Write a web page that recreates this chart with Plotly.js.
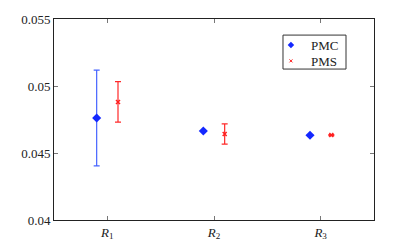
<!DOCTYPE html>
<html><head><meta charset="utf-8">
<script src="https://cdn.plot.ly/plotly-3.0.1.min.js"></script>
<style>body{margin:0;background:#fff}#c{width:415px;height:248px}</style>
</head><body><div id="c"></div>
<script>
const categories = ['<i>R</i><sub>1</sub>', '<i>R</i><sub>2</sub>', '<i>R</i><sub>3</sub>'];
const seriesNames = ['PMC', 'PMS'];
const pmcMean = [0.04761, 0.04664, 0.04632];
const pmcErr  = [0.00357, 0, 0];
const pmsMean = [0.04881, 0.04642, 0.04634];
const pmsErr  = [0.00151, 0.00076, 0.00004];

const pos = categories.map((_, i) => i + 1);
const off = 0.1;
const fam = 'Liberation Serif';
const font = {family: fam, size: 13, color: '#222'};
const blue = 'rgb(20,40,255)', red = 'rgb(255,30,30)';

const traces = [
  {x: pos.map(p => p - off), y: pmcMean, name: seriesNames[0], type: 'scatter', mode: 'markers', showlegend: false,
   marker: {symbol: 'diamond', size: 7, color: blue},
   error_y: {type: 'data', array: pmcErr, visible: true, color: 'rgb(70,100,255)', thickness: 1.2, width: 3}},
  {x: pos.map(p => p + off), y: pmsMean, name: seriesNames[1], type: 'scatter', mode: 'markers', showlegend: false,
   marker: {symbol: 'x-thin', size: 4, color: red, line: {color: red, width: 1.5}},
   error_y: {type: 'data', array: pmsErr, visible: true, color: 'rgb(255,40,40)', thickness: 1.2, width: 3}},
  {x: [null], y: [null], name: seriesNames[0], type: 'scatter', mode: 'markers', legend: 'legend',
   marker: {symbol: 'diamond', size: 5, color: blue}},
  {x: [null], y: [null], name: seriesNames[1], type: 'scatter', mode: 'markers', legend: 'legend2',
   marker: {symbol: 'x-thin', size: 3, color: red, line: {color: red, width: 1}}}
];

const axBase = {showline: true, linecolor: '#222', linewidth: 1, mirror: 'ticks', ticks: 'inside',
  ticklen: 4, tickcolor: '#777', showgrid: false, zeroline: false, tickfont: font};

const legBase = {xanchor: 'left', yanchor: 'top', borderwidth: 0, bgcolor: 'rgba(0,0,0,0)',
  font: {family: fam, size: 13, color: '#222'}, itemwidth: 30};

const layout = {
  width: 415, height: 248,
  margin: {l: 54, r: 41, t: 19, b: 28},
  paper_bgcolor: '#fff', plot_bgcolor: '#fff',
  font: font,
  xaxis: Object.assign({}, axBase, {range: [0.5, 3.5], tickvals: pos, ticktext: categories}),
  yaxis: Object.assign({}, axBase, {range: [0.04, 0.055], dtick: 0.005, tick0: 0.04}),
  showlegend: true,
  legend: Object.assign({}, legBase, {x: 0.678, y: 0.945}),
  legend2: Object.assign({}, legBase, {x: 0.678, y: 0.866}),
  shapes: [{type: 'rect', xref: 'paper', yref: 'paper', x0: 0.7156, x1: 0.9125, y0: 0.751, y1: 0.92,
    line: {color: '#333', width: 1}, fillcolor: 'rgba(0,0,0,0)', layer: 'below'}]
};

Plotly.newPlot('c', traces, layout, {staticPlot: true});
</script></body></html>
